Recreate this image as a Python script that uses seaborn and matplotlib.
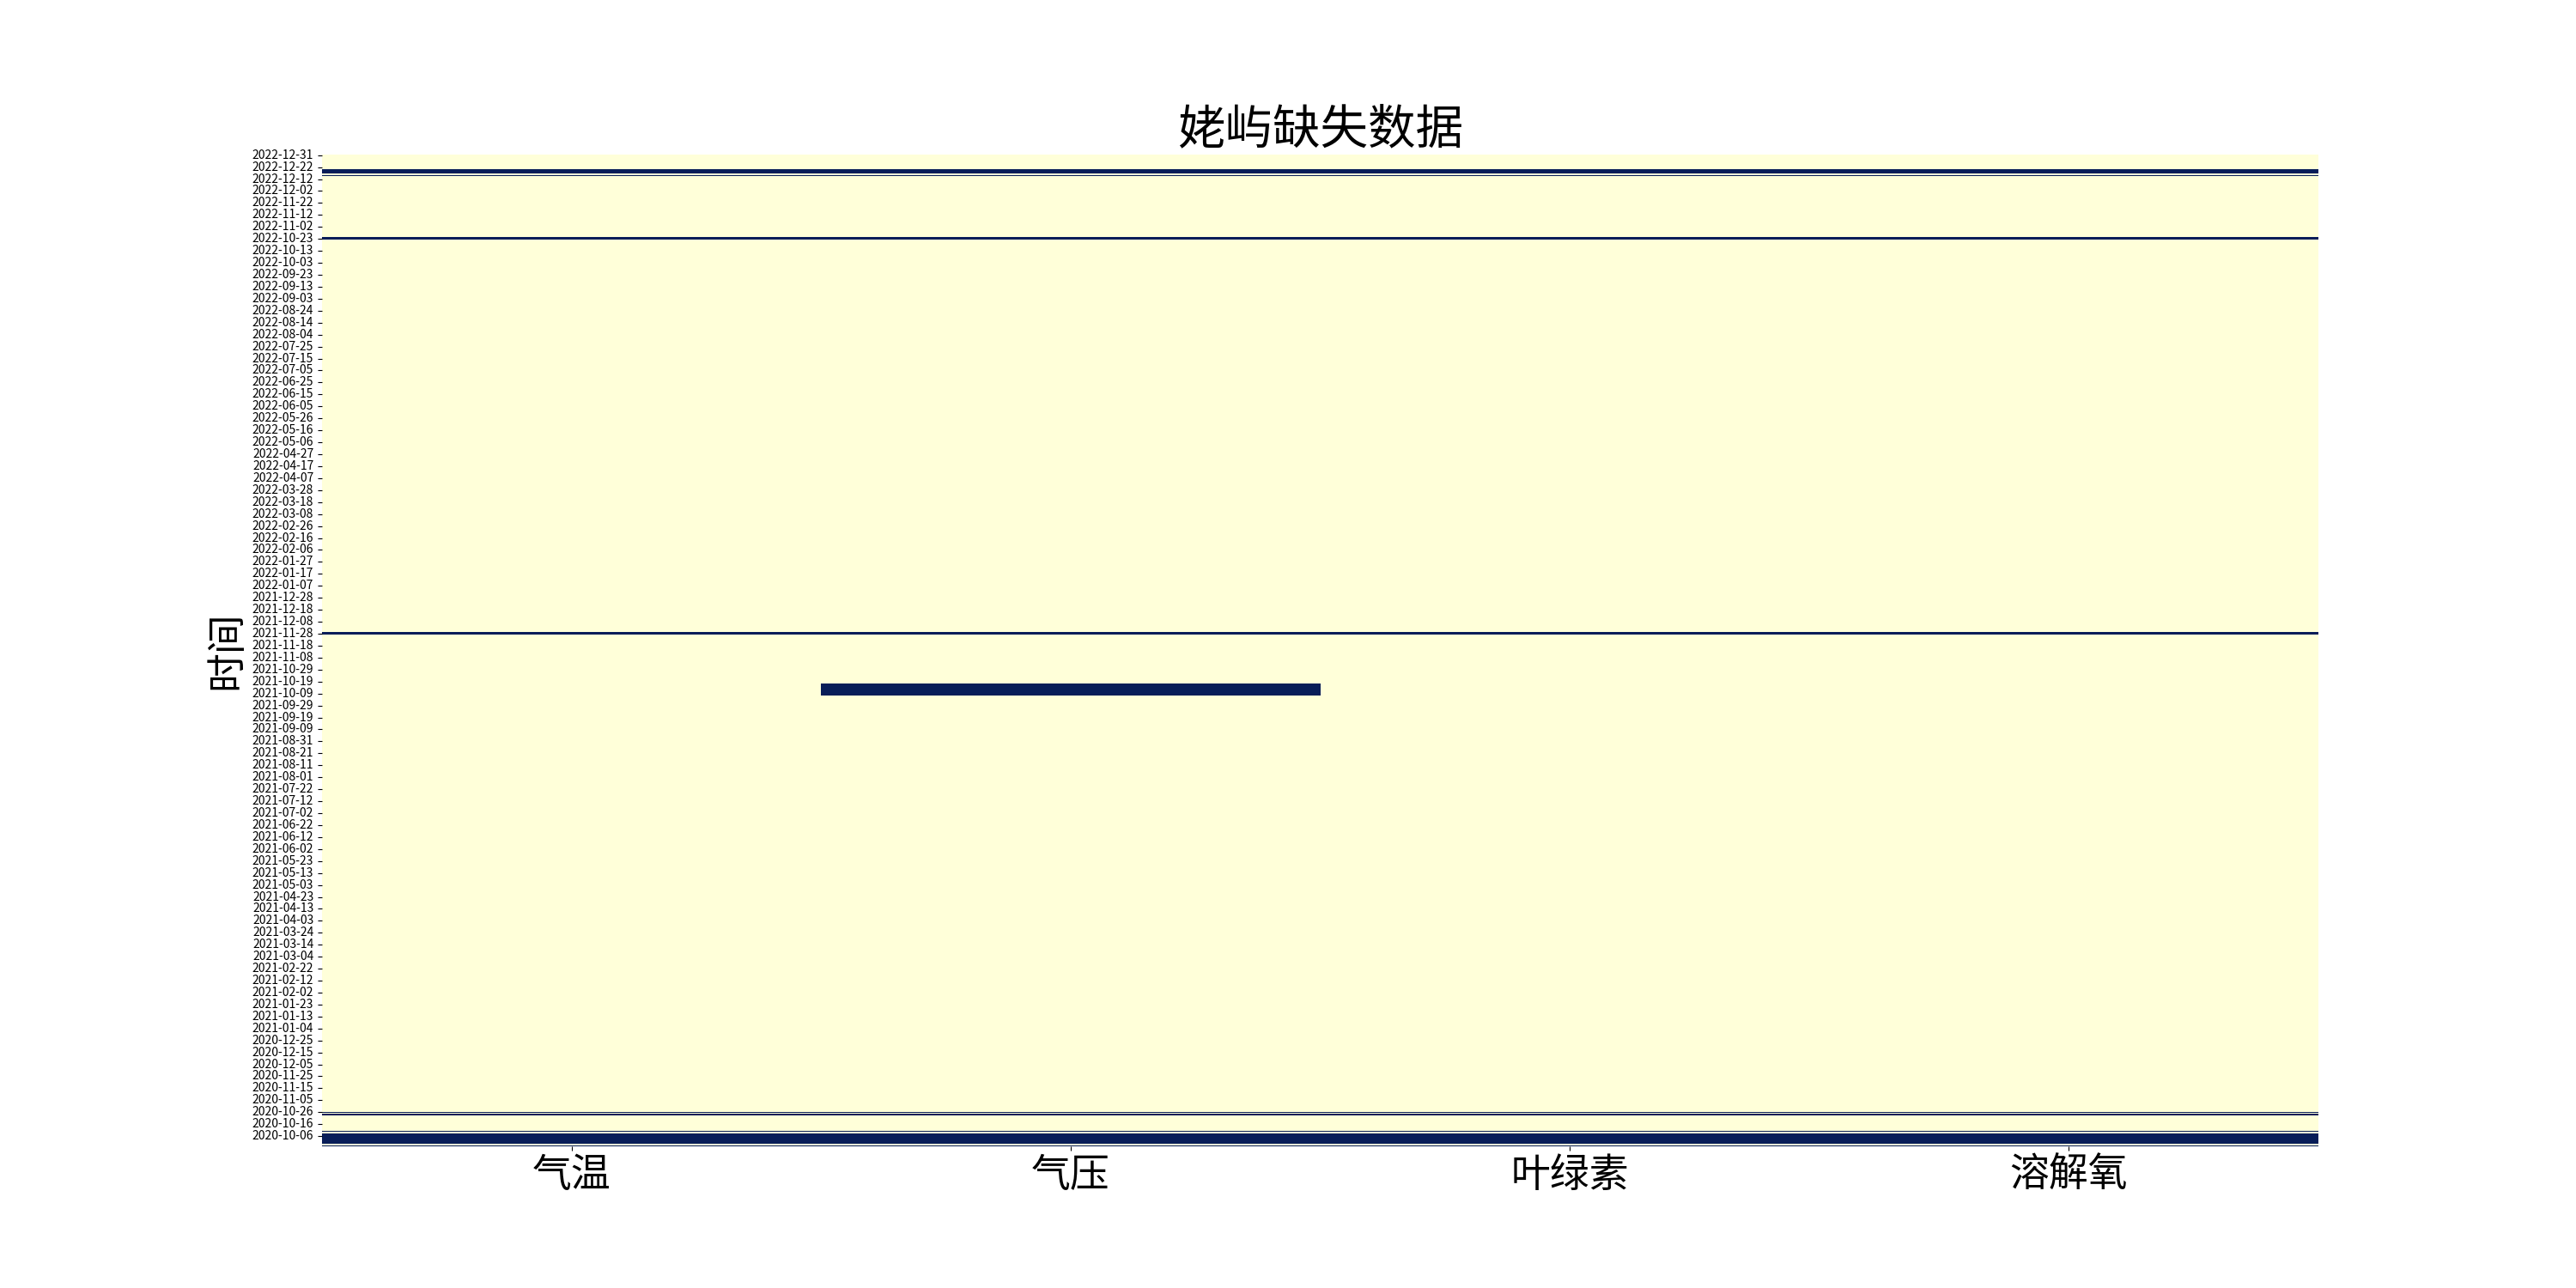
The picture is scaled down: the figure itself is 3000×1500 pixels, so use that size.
import matplotlib
matplotlib.use("Agg")
import matplotlib.pyplot as plt
import numpy as np
import pandas as pd
import seaborn as sns

# columns of the station data
columns = ["气温", "气压", "叶绿素", "溶解氧"]

# daily records, first and last day
first_day = "2020-09-28"
last_day = "2022-12-31"
# days that have two rows in the table
double_days = ["2021-01-08", "2021-09-04", "2022-05-01", "2022-12-26"]

# missing spans for every variable (start, end)
missing_all = [
    ("2022-12-17", "2022-12-20"),
    ("2022-12-15", "2022-12-15"),
    ("2022-10-23", "2022-10-24"),
    ("2021-11-28", "2021-11-29"),
    ("2020-10-26", "2020-10-26"),
    ("2020-10-24", "2020-10-24"),
    ("2020-10-10", "2020-10-10"),
    ("2020-09-30", "2020-10-08"),
    ("2020-09-28", "2020-09-28"),
]
# missing spans for 气压 only
missing_pressure = [("2021-10-08", "2021-10-17")]

days = pd.date_range(first_day, last_day, freq="D")
days = days.append(pd.to_datetime(double_days)).sort_values(ascending=False)
df = pd.DataFrame(0, index=days, columns=columns)
for a, b in missing_all:
    df.loc[(df.index >= a) & (df.index <= b), :] = 1
for a, b in missing_pressure:
    df.loc[(df.index >= a) & (df.index <= b), "气压"] = 1
df.index = df.index.strftime("%Y-%m-%d")

plt.rcParams["font.family"] = ["Noto Sans CJK SC", "DejaVu Sans"]
plt.rcParams["axes.unicode_minus"] = False

fig, ax = plt.subplots(figsize=(30, 15), dpi=100)
sns.heatmap(df, cmap="YlGnBu", cbar=False, yticklabels=10, ax=ax)
ax.set_title("姥屿缺失数据", fontsize=40, pad=4.5)
ax.set_ylabel("时间", fontsize=33)
ax.tick_params(axis="x", labelsize=33, rotation=0)
ax.tick_params(axis="y", labelsize=10, rotation=0)
plt.savefig("out.png", dpi=100)
